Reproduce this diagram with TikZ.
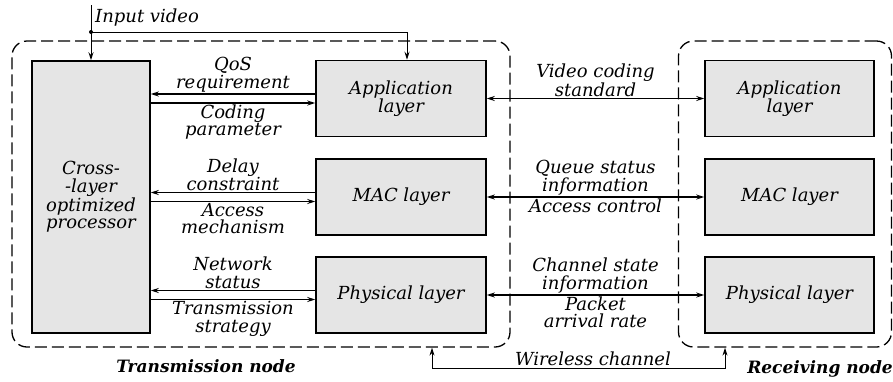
\documentclass[tikz,border=0pt]{standalone}
\usepackage{fontspec}
\setmainfont{DejaVu Serif}
\usetikzlibrary{arrows.meta}
\begin{document}
\begin{tikzpicture}[x=1pt,y=-1pt,
  txt/.style={font=\fontsize{18}{17.5}\selectfont\itshape, align=center, inner sep=1pt},
  layerbox/.style={draw, line width=1.5pt, fill=black!10, minimum width=170pt, minimum height=76pt, txt},
  nodebox/.style={draw, dashed, dash pattern=on 12pt off 5pt, line width=1.3pt, rounded corners=15pt},
  arr/.style={line width=1.6pt, -{Stealth[length=8pt,width=5pt]}},
  darr/.style={line width=1.6pt, {Stealth[length=8pt,width=5pt]}-{Stealth[length=8pt,width=5pt]}},
  thin arr/.style={line width=1pt, -{Stealth[length=8pt,width=5pt]}},
  thin darr/.style={line width=1pt, {Stealth[length=8pt,width=5pt]}-{Stealth[length=8pt,width=5pt]}},
  caption/.style={font=\fontsize{17}{17}\selectfont\bfseries\itshape, inner sep=0pt}
]
\useasboundingbox (0,0) rectangle (893,381);

% node containers
\node[nodebox, minimum width=498pt, minimum height=306pt] (txnode) at (261,194) {};
\node[nodebox, minimum width=213pt, minimum height=306pt] (rxnode) at (785,194) {};

% transmitter layers
\node[layerbox, minimum width=118pt, minimum height=272pt] (proc) at (91,197)
  {Cross-\\-layer\\optimized\\processor};
\node[layerbox] (txapp) at (401,98.5) {Application\\layer};
\node[layerbox] (txmac) at (401,197) {MAC layer};
\node[layerbox] (txphy) at (401,295) {Physical layer};

% receiver layers
\node[layerbox, minimum width=169pt] (rxapp) at (789.5,98.5) {Application\\layer};
\node[layerbox, minimum width=169pt] (rxmac) at (789.5,197) {MAC layer};
\node[layerbox, minimum width=169pt] (rxphy) at (789.5,295) {Physical layer};

% input video feed
\coordinate (vin) at (91,5);
\coordinate (split) at (91,32);
\draw[thin arr] (vin) -- (proc.north);
\draw[thin arr] (split) -| ([xshift=6pt]txapp.north);
\fill (split) circle (2pt);
\node[txt, anchor=south west] (vinlbl) at (94,27) {Input video};

% processor <-> layers
\foreach \L/\up/\dn in {txapp/{QoS\\requirement}/{Coding\\parameter},
                        txmac/{Delay\\constraint}/{Access\\mechanism},
                        txphy/{Network\\status}/{Transmission\\strategy}}{
  \draw[arr] ([yshift=4.5pt]\L.west) -- ([yshift=4.5pt]proc.east |- \L.west)
    node[txt, midway, anchor=south] {\up};
  \draw[arr] ([yshift=-4.5pt]proc.east |- \L.west) -- ([yshift=-4.5pt]\L.west)
    node[txt, midway, anchor=north] {\dn};
}

% peer-to-peer exchanges
\draw[darr] (txapp.east) -- (rxapp.west)
  node[txt, midway, anchor=south] {Video coding\\standard};
\draw[darr] (txmac.east) -- (rxmac.west)
  node[txt, midway, anchor=south] {Queue status\\information}
  node[txt, midway, anchor=north] {Access control};
\draw[darr] (txphy.east) -- (rxphy.west)
  node[txt, midway, anchor=south] {Channel state\\information}
  node[txt, midway, anchor=north] {Packet\\arrival rate};

% wireless channel
\coordinate (wl) at (432,368);
\coordinate (wr) at (725,368);
\draw[thin darr] (txnode.south -| wl) -- (wl) -- (wr) -- (rxnode.south -| wr);
\node[txt, anchor=south] (wlbl) at (593,367) {Wireless channel};

% node captions
\node[caption] (txcap) at (206,366) {Transmission node};
\node[caption] (rxcap) at (820,369) {Receiving node};
\end{tikzpicture}
\end{document}
